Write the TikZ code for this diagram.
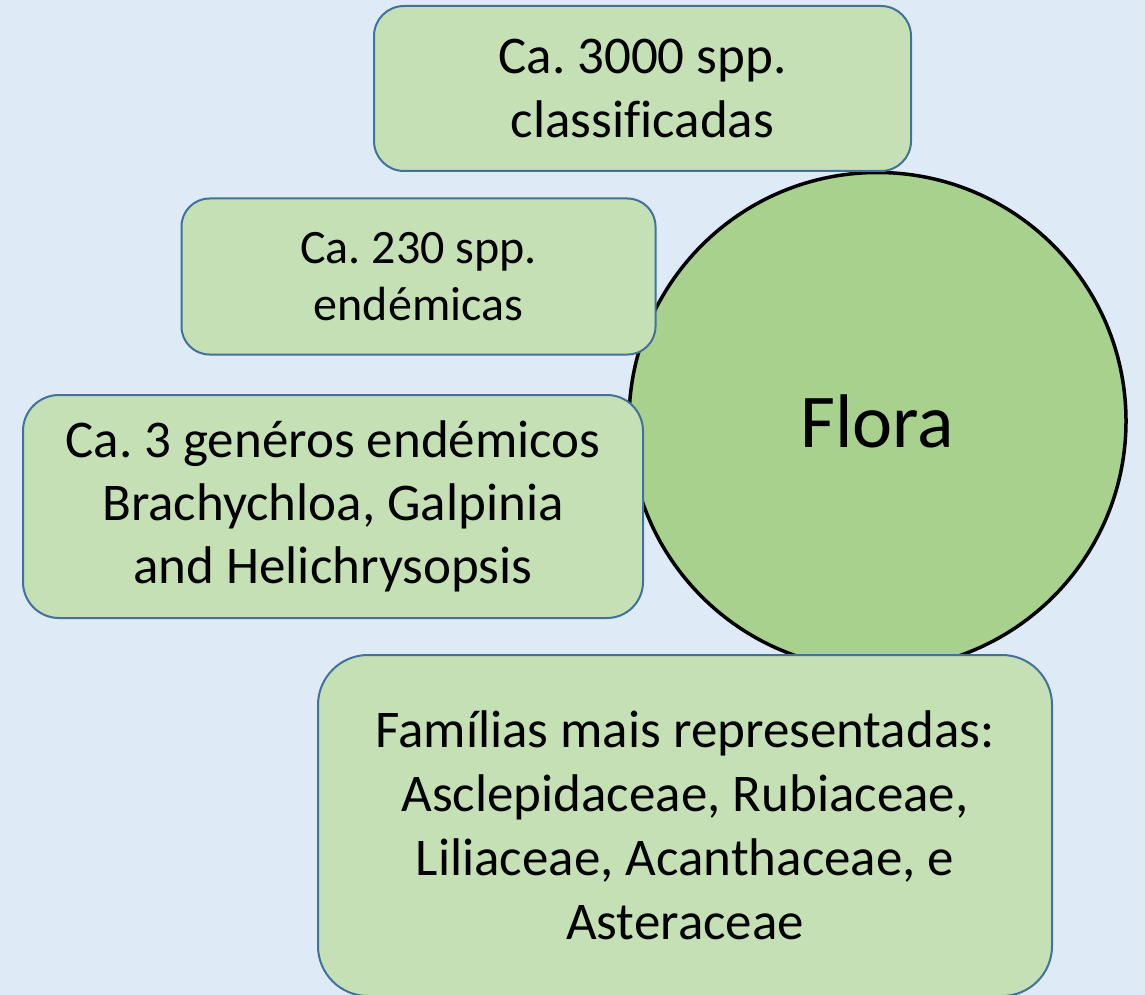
\documentclass[tikz,border=0pt]{standalone}
\usepackage{fontspec}
\setmainfont{Carlito}[Ligatures={NoCommon}]
\frenchspacing
\definecolor{bgblue}{RGB}{222,235,247}
\definecolor{boxfill}{RGB}{197,224,180}
\definecolor{boxline}{RGB}{65,113,156}
\definecolor{circfill}{RGB}{169,209,142}
\tikzset{
  infobox/.style={rectangle, draw=boxline, line width=2pt, fill=boxfill,
    align=center, inner sep=0pt, text=black}
}
\begin{document}
\begin{tikzpicture}[x=1pt,y=-1pt]
\fill[bgblue] (0,0) rectangle (1145,995);
\useasboundingbox (0,0) rectangle (1145,995);
\node[circle, draw=black, line width=3.5pt, fill=circfill, minimum size=497pt,
  inner sep=0pt, font=\fontsize{76}{90}\selectfont] (flora) at (877.5,421) {Flora};
\node[infobox, minimum width=537pt, minimum height=165pt, rounded corners=30pt,
  font=\fontsize{53}{64}\selectfont] (spp) at (642.5,88.5) {Ca. 3000 spp.\\classificadas};
\node[infobox, minimum width=474pt, minimum height=156pt, rounded corners=28pt,
  font=\fontsize{48}{57}\selectfont] (endem) at (418.5,276.5) {Ca. 230 spp.\\endémicas};
\node[infobox, minimum width=620pt, minimum height=223pt, rounded corners=36pt,
  font=\fontsize{53}{63}\selectfont] (gen) at (333,506.5) {Ca. 3 genéros endémicos\\Brachychloa, Galpinia\\and Helichrysopsis};
\node[infobox, minimum width=734pt, minimum height=341pt, rounded corners=50pt,
  font=\fontsize{53}{64}\selectfont] (fam) at (685,825.5) {Famílias mais representadas:\\Asclepidaceae, Rubiaceae,\\Liliaceae, Acanthaceae, e\\Asteraceae};
\end{tikzpicture}
\end{document}
